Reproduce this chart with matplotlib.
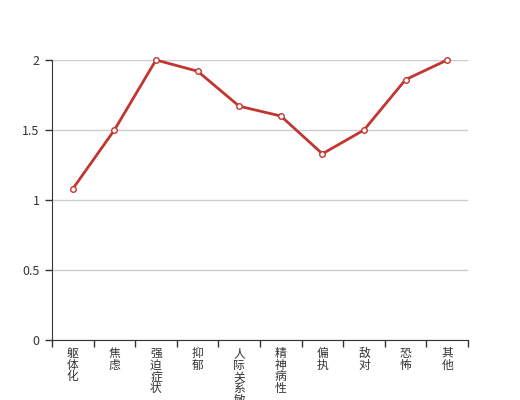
import matplotlib.pyplot as plt
import numpy as np

plt.rcParams['font.family'] = ['Noto Sans CJK SC', 'DejaVu Sans']

categories = ['躯体化', '焦虑', '强迫症状', '抑郁', '人际关系敏感', '精神病性', '偏执', '敌对', '恐怖', '其他']
values = [1.08, 1.5, 2.0, 1.92, 1.67, 1.6, 1.33, 1.5, 1.86, 2.0]
y_ticks = [0, 0.5, 1, 1.5, 2]
y_labels = ['0', '0.5', '1', '1.5', '2']

fig = plt.figure(figsize=(5.2, 4.0), dpi=100)
ax = fig.add_axes([0.1, 0.15, 0.8, 0.7])

x = np.arange(len(categories))
ax.plot(x, values, color='#c23531', linewidth=2, marker='o', markersize=4,
        markerfacecolor='white', markeredgecolor='#c23531', markeredgewidth=1, zorder=3,
        clip_on=False)

ax.set_xlim(-0.5, len(categories) - 0.5)
ax.set_ylim(0, 2)
ax.set_yticks(y_ticks)
ax.set_yticklabels(y_labels)
ax.yaxis.grid(True, color='#cccccc', linewidth=1)
ax.set_axisbelow(True)

ax.set_xticks(np.arange(len(categories) + 1) - 0.5)
ax.set_xticklabels([])
ax.tick_params(axis='x', length=5, color='#333333', width=1)
ax.tick_params(axis='y', length=5, color='#333333', width=1, labelsize=9, labelcolor='#333333', pad=4)

for s in ['top', 'right']:
    ax.spines[s].set_visible(False)
for s in ['left', 'bottom']:
    ax.spines[s].set_color('#333333')

# vertical labels: one char per text so the long one just runs off the bottom
pitch = 8.4  # points between chars
for i, name in enumerate(categories):
    for k, ch in enumerate(name):
        ax.annotate(ch, xy=(i, 0), xytext=(0, -5 - k * pitch), textcoords='offset points',
                    ha='center', va='top', fontsize=8.5, color='#333333',
                    annotation_clip=False)

fig.savefig('out.png', dpi=100)
